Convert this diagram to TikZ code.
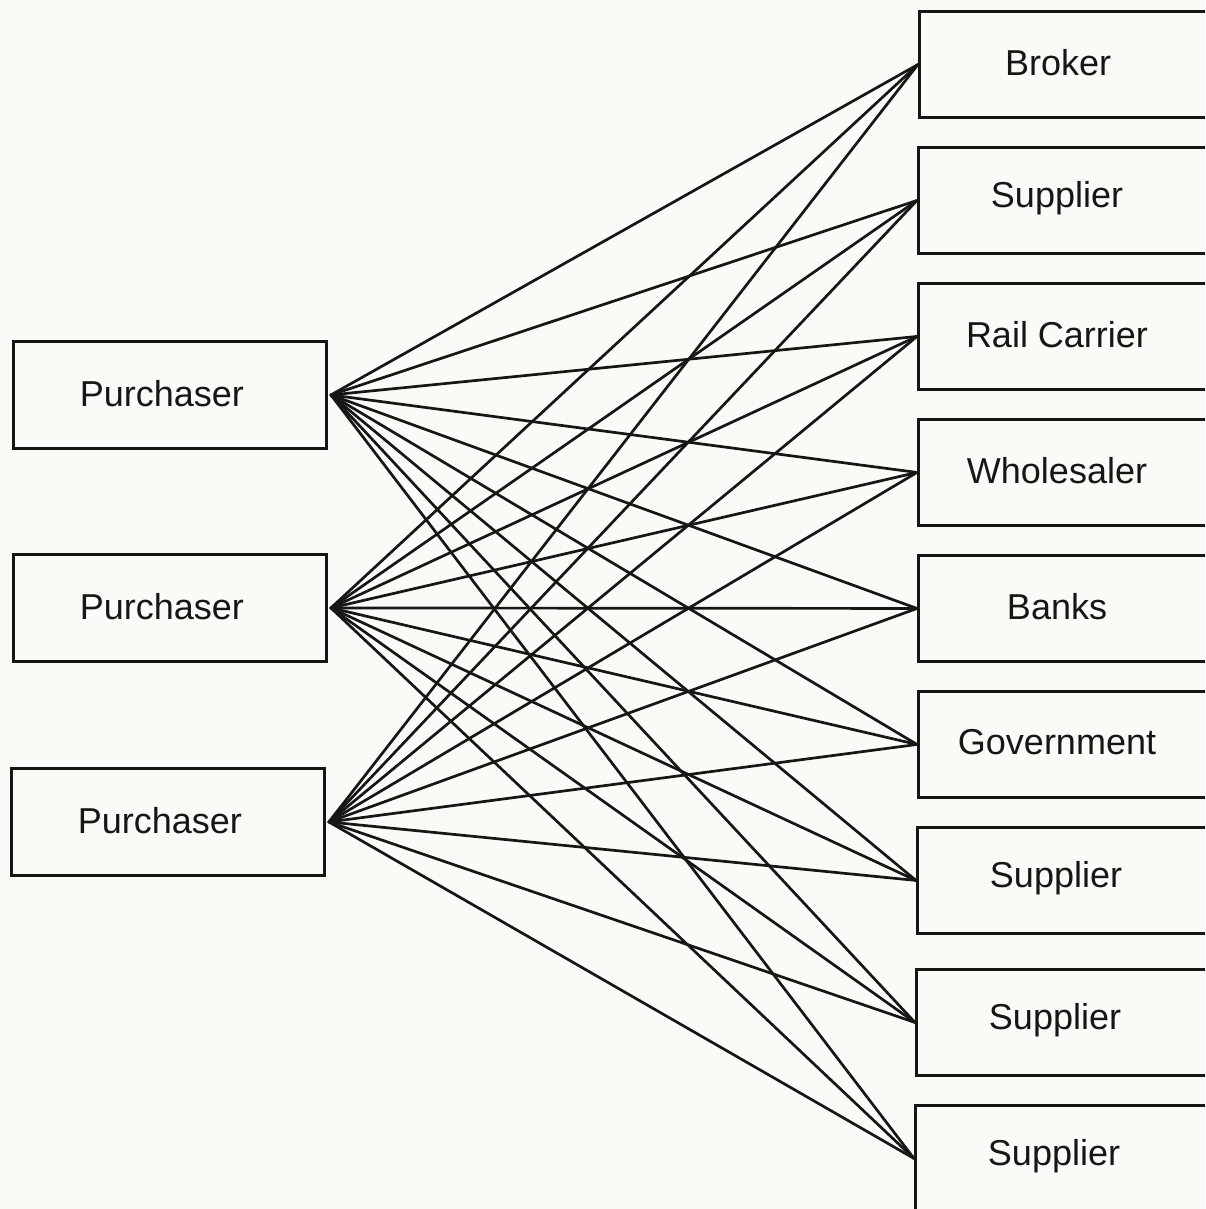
\documentclass[tikz,border=0pt]{standalone}
\usepackage{fontspec}
\setmainfont{Liberation Sans}
\definecolor{paper}{RGB}{251,250,246}
\definecolor{ink}{RGB}{22,22,22}
\begin{document}
\begin{tikzpicture}[x=1pt,y=-1pt,
  box/.style={draw=ink,line width=2.9pt,rectangle,inner sep=0pt,anchor=north west},
  lbox/.style={box,minimum width=313pt,minimum height=107pt},
  rbox/.style={box,minimum width=360pt,minimum height=106pt},
  lbl/.style={font=\fontsize{36}{42}\selectfont,text=ink,inner sep=0pt},
  link/.style={draw=ink,line width=2.7pt,line cap=round}]
\fill[paper] (0,0) rectangle (1205,1209);
\useasboundingbox (0,0) rectangle (1205,1209);
\clip (0,0) rectangle (1205,1209);

% purchasers on the left
\node[lbox] (p1) at (12,340) {};
\node[lbox] (p2) at (12,553) {};
\node[lbox] (p3) at (10,767) {};
\foreach \p in {p1,p2,p3}
  \node[lbl] at ([xshift=-8pt,yshift=1pt]\p.center) {Purchaser};

% parties on the right (boxes run off the right edge)
\node[rbox] (r1) at (918,10)   {};
\node[rbox] (r2) at (917,146)  {};
\node[rbox] (r3) at (917,282)  {};
\node[rbox] (r4) at (917,418)  {};
\node[rbox] (r5) at (917,554)  {};
\node[rbox] (r6) at (917,690)  {};
\node[rbox] (r7) at (916,826)  {};
\node[rbox] (r8) at (915,968)  {};
\node[rbox] (r9) at (914,1104) {};
\foreach \r/\t in {r1/Broker,r2/Supplier,r3/Rail Carrier,r4/Wholesaler,
                   r5/Banks,r6/Government,r7/Supplier,r8/Supplier,r9/Supplier}
  \node[lbl] at ([xshift=140pt,yshift=2pt]\r.west) {\t};

% every purchaser is linked to every party
\foreach \p in {p1,p2,p3}
  \foreach \r in {r1,r2,r3,r4,r5,r6,r7,r8,r9}
    \draw[link] ([xshift=3pt]\p.east) -- (\r.west);
\end{tikzpicture}
\end{document}
